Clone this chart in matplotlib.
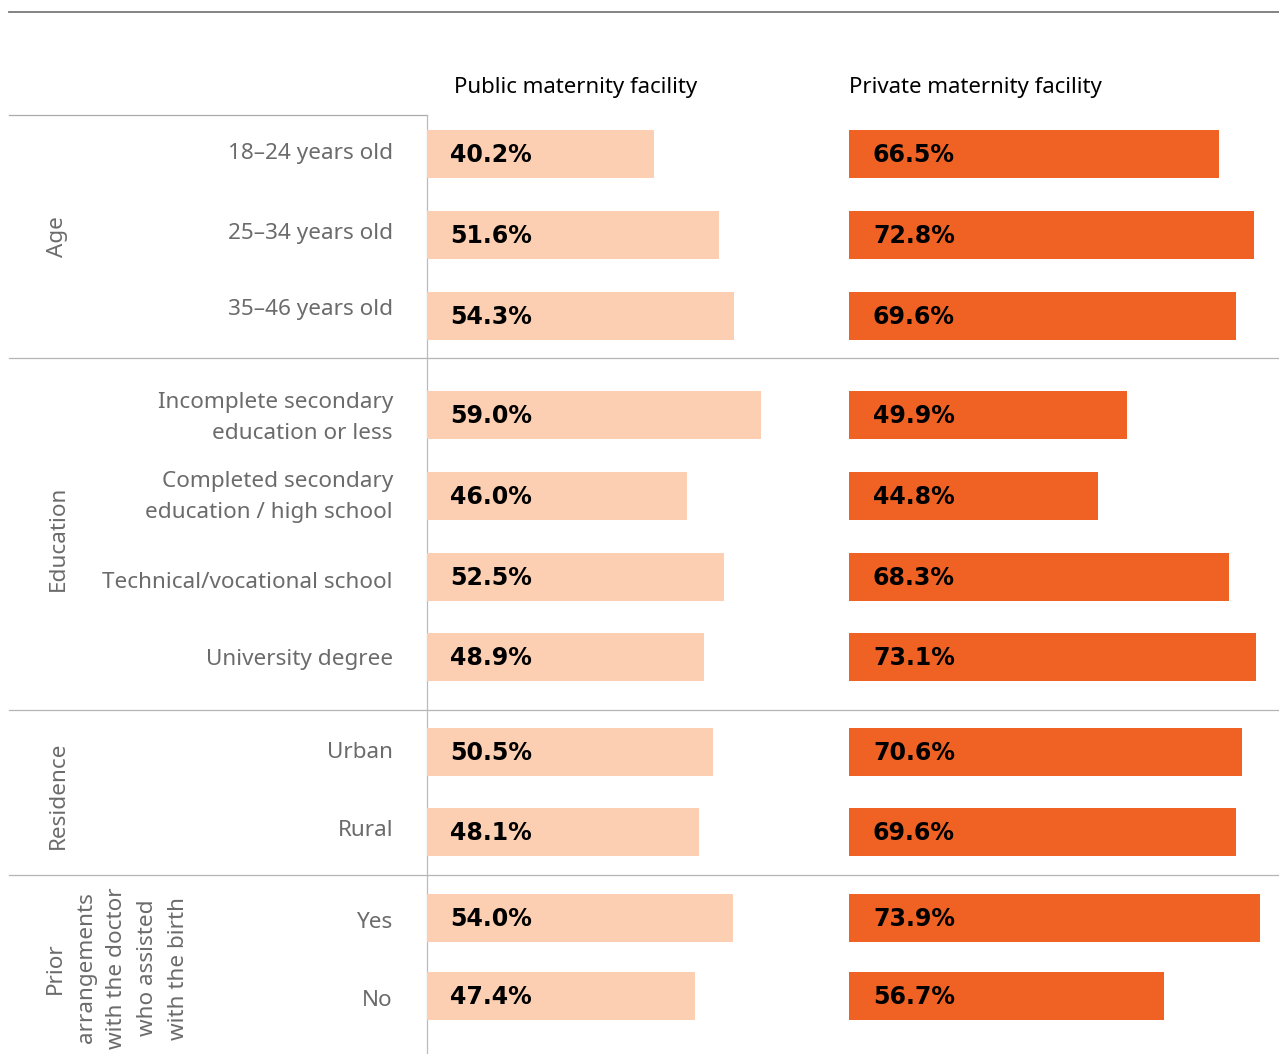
import matplotlib
matplotlib.use("Agg")
import matplotlib.pyplot as plt

# --- data ---------------------------------------------------------------
groups = ["Age", "Education", "Residence",
          "Prior\narrangements\nwith the doctor\nwho assisted\nwith the birth"]
categories = [
    "18–24 years old", "25–34 years old", "35–46 years old",
    "Incomplete secondary\neducation or less",
    "Completed secondary\neducation / high school",
    "Technical/vocational school", "University degree",
    "Urban", "Rural",
    "Yes", "No",
]
group_of = [0, 0, 0, 1, 1, 1, 1, 2, 2, 3, 3]
public = [40.2, 51.6, 54.3, 59.0, 46.0, 52.5, 48.9, 50.5, 48.1, 54.0, 47.4]
private = [66.5, 72.8, 69.6, 49.9, 44.8, 68.3, 73.1, 70.6, 69.6, 73.9, 56.7]
panel_titles = ["Public maternity facility", "Private maternity facility"]

# --- layout (figure pixels, y downwards) ----------------------------------
W, H = 1279, 1054
row_y = [154, 235, 316, 415, 496, 577, 657, 752, 832, 918, 996]
label_y = [154, 233, 310, 418, 497, 583, 660, 753, 831, 922, 1000]
group_label_y = [237, 538, 795, 968]
group_label_x = [58, 58, 58, 117]
separators = [358, 710, 875]
bar_h = 48
PUB_COLOR = "#FCCFB2"
PRIV_COLOR = "#F06224"
LABEL_FONT = "Noto Sans"
LABEL_SIZE = 16.2
LINE_SPACING = 1.6

fig = plt.figure(figsize=(W / 100, H / 100), dpi=100)

# background axes in pixel coordinates for rules and labels
bg = fig.add_axes([0, 0, 1, 1])
bg.set_xlim(0, W)
bg.set_ylim(H, 0)
bg.axis("off")

bg.plot([9, W], [12, 12], color="#7a7a7a", lw=1.3)
bg.plot([9, 427], [115, 115], color="#aaaaaa", lw=0.9)
for y in separators:
    bg.plot([9, W], [y, y], color="#b5b5b5", lw=0.9)
bg.plot([427, 427], [115, H], color="#bbbbbb", lw=0.9)

for name, y, x in zip(groups, group_label_y, group_label_x):
    bg.text(x, y, name, rotation=90, ha="center", va="center",
            multialignment="center", fontsize=LABEL_SIZE, color="#6b6b6b",
            family=LABEL_FONT, linespacing=LINE_SPACING)

for name, y in zip(categories, label_y):
    bg.text(393, y, name, ha="right", va="center", multialignment="right",
            fontsize=LABEL_SIZE, color="#6b6b6b", family=LABEL_FONT,
            linespacing=LINE_SPACING)

bg.text(454, 88, panel_titles[0], ha="left", va="center", fontsize=16,
        color="black", family=LABEL_FONT)
bg.text(849, 88, panel_titles[1], ha="left", va="center", fontsize=16,
        color="black", family=LABEL_FONT)


def panel(left, width, xmax, values, color, label_dx):
    ax = fig.add_axes([left / W, 0, width / W, 1])
    ax.set_xlim(0, xmax)
    ax.set_ylim(H, 0)
    ax.axis("off")
    ax.patch.set_alpha(0)
    ax.barh(row_y, values, height=bar_h, color=color, left=0)
    px = xmax / width
    for v, y in zip(values, row_y):
        ax.text(label_dx * px, y + 1, f"{v:.1f}%", ha="left", va="center",
                fontsize=17, fontweight="bold", color="black",
                family="DejaVu Sans")
    return ax


panel(427, 400, 400 / 5.658, public, PUB_COLOR, 23)
panel(849, 430, 430 / 5.563, private, PRIV_COLOR, 24)

fig.savefig("out.png", dpi=100)
